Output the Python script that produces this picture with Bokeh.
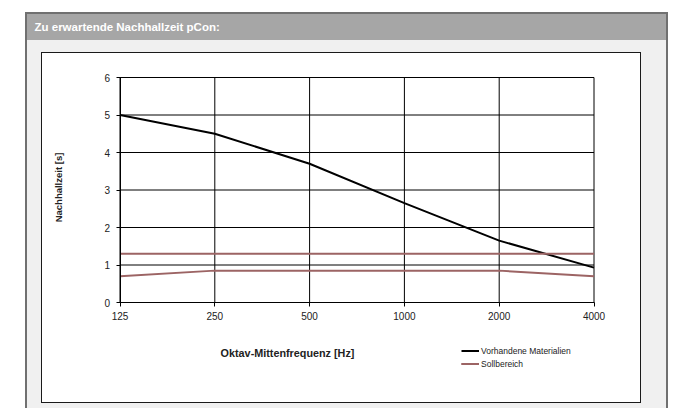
import math
from bokeh.plotting import figure
from bokeh.models import (Range1d, FixedTicker, Label, Legend, LegendItem)
from bokeh.embed import file_html
from bokeh.resources import INLINE

# ---- data ----
frequencies = ["125", "250", "500", "1000", "2000", "4000"]
vorhandene_materialien = [5.0, 4.5, 3.7, 2.65, 1.65, 0.93]
sollbereich_oben = [1.3, 1.3, 1.3, 1.3, 1.3, 1.3]
sollbereich_unten = [0.7, 0.85, 0.85, 0.85, 0.85, 0.7]
y_ticks = [0, 1, 2, 3, 4, 5, 6]

title_text = "Zu erwartende Nachhallzeit pCon:"
x_label = "Oktav-Mittenfrequenz [Hz]"
y_label = "Nachhallzeit [s]"

FONT = "Liberation Sans"
RED = "#9c6464"
TXT = "#222222"

x_pos = list(range(len(frequencies)))

# pixel <-> data helpers (the frame covers the whole canvas)
X0, XPX = 119.5, 94.8     # pixel of first category, pixels per category step
Y0, YPX = 302.0, 37.5     # pixel of y=0, pixels per second

def dx(px):
    return (px - X0) / XPX

def dy(py):
    return (Y0 - py) / YPX

W, H = 677, 408
p = figure(width=W, height=H, output_backend="svg", toolbar_location=None,
           x_range=Range1d(dx(0), dx(W)), y_range=Range1d(dy(H), dy(0)),
           min_border=0, min_border_left=0, min_border_right=0,
           min_border_top=0, min_border_bottom=0,
           background_fill_alpha=0, border_fill_alpha=0)
p.outline_line_color = None

# ---- panel decorations as CSS background layers of the plot element ----
layers = [
    ("#ffffff", 42, 53, 598, 349),   # inner white box
    ("#1a1a1a", 41, 52, 600, 351),   # inner box border
    ("#a6a6a6", 27, 14, 639, 26),    # header band
    ("#f0f0f0", 27, 14, 639, 400),   # light panel
    ("#707070", 25, 12, 643, 400),   # outer border
]
p.styles = {
    "background-color": "#ffffff",
    "background-image": ", ".join(f"linear-gradient({c}, {c})" for c, *_ in layers),
    "background-position": ", ".join(f"{x}px {y}px" for _, x, y, _w, _h in layers),
    "background-size": ", ".join(f"{w}px {h}px" for _, _x, _y, w, h in layers),
    "background-repeat": "no-repeat",
}

# ---- axes at fixed locations inside the canvas-wide frame ----
for ax in (p.xaxis[0], p.yaxis[0]):
    ax.fixed_location = 0
    ax.axis_line_color = "black"
    ax.major_tick_line_color = "black"
    ax.major_tick_in = 0
    ax.major_tick_out = 4
    ax.minor_tick_line_color = None
    ax.major_label_text_font = FONT
    ax.major_label_text_font_size = "10px"
    ax.major_label_text_color = TXT

p.xaxis.ticker = FixedTicker(ticks=x_pos)
p.xaxis.bounds = (x_pos[0], x_pos[-1])
p.xaxis.major_label_overrides = {i: f for i, f in zip(x_pos, frequencies)}
p.xaxis.major_label_standoff = 5
p.yaxis.ticker = FixedTicker(ticks=y_ticks)
p.yaxis.bounds = (y_ticks[0], y_ticks[-1])
p.yaxis.major_label_standoff = 6

p.xgrid.grid_line_color = None
p.ygrid.grid_line_color = None

# grid lines / plot-area box, limited to the plot area
p.segment(x0=x_pos, y0=[y_ticks[0]] * len(x_pos), x1=x_pos, y1=[y_ticks[-1]] * len(x_pos),
          line_color="black", line_width=1)
p.segment(x0=[x_pos[0]] * len(y_ticks), y0=y_ticks, x1=[x_pos[-1]] * len(y_ticks), y1=y_ticks,
          line_color="black", line_width=1)

# ---- series ----
r1 = p.line(x_pos, vorhandene_materialien, line_color="black", line_width=2)
r2 = p.line(x_pos, sollbereich_oben, line_color=RED, line_width=2)
r3 = p.line(x_pos, sollbereich_unten, line_color=RED, line_width=2)

legend = Legend(items=[LegendItem(label="Vorhandene Materialien", renderers=[r1]),
                       LegendItem(label="Sollbereich", renderers=[r2, r3])],
                location=(461, H - 370), orientation="vertical", padding=0, margin=0,
                spacing=0, glyph_width=18, glyph_height=13, label_height=13,
                label_standoff=2, label_text_font=FONT, label_text_font_size="8.5px",
                label_text_color=TXT,
                border_line_color=None, background_fill_alpha=0)
p.add_layout(legend)

# ---- texts ----
p.add_layout(Label(x=dx(34), y=dy(26), text=title_text, text_font=FONT,
                   text_font_size="11.5px", text_font_style="bold", text_color="white",
                   text_align="left", text_baseline="middle"))
p.add_layout(Label(x=dx(287), y=dy(352), text=x_label, text_font=FONT,
                   text_font_size="10.8px", text_font_style="bold", text_color=TXT,
                   text_align="center", text_baseline="middle"))
p.add_layout(Label(x=dx(57.5), y=dy(187), text=y_label, text_font=FONT,
                   text_font_size="9.5px", text_font_style="bold", text_color=TXT,
                   text_align="center", text_baseline="middle", angle=math.pi / 2))

open("out.html", "w").write(file_html(p, INLINE))
